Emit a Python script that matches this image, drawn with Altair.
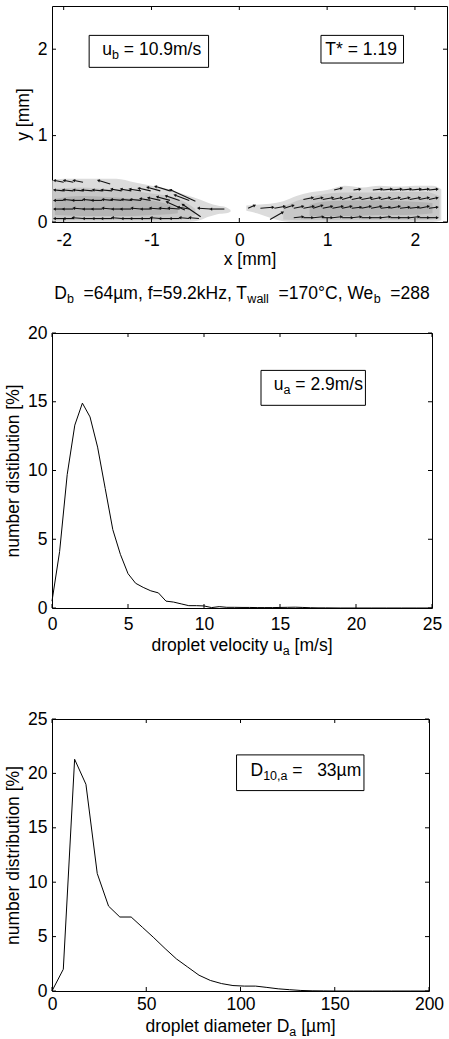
import altair as alt
import numpy as np
import pandas as pd

FONT = "Liberation Sans"
FS = 17.5
SUB = 12.5

# ---------------- Panel 1: droplet velocity vectors (tails, components in mm) ----------------
arrow_x = [
    -2.00, -1.89, -1.78, -1.67, -1.56, -1.45, -1.34, -1.23, -1.12, -1.01, -0.90, -0.79, -0.68, -0.57, -0.46,
    -2.00, -1.89, -1.78, -1.67, -1.56, -1.45, -1.34, -1.23, -1.12, -1.01, -0.90, -0.79, -0.68, -0.57, -0.33, -0.17,
    -2.00, -1.89, -1.78, -1.67, -1.56, -1.45, -1.34, -1.23, -1.12, -1.01, -0.90, -0.79, -0.68, -0.57,
    -2.00, -1.89, -1.78, -1.67, -1.56, -1.45, -1.34, -1.23, -1.12, -1.01, -0.90, -0.79,
    -2.00, -1.89, -1.78, -1.47,
    -0.50, -0.44, -0.62,
    0.35, 0.62, 0.73, 0.84, 0.95, 1.06, 1.17, 1.28, 1.39, 1.50, 1.61, 1.72, 1.83, 1.94, 2.05, 2.16,
    0.10, 0.24, 0.40, 0.51, 0.62, 0.73, 0.84, 0.95, 1.06, 1.17, 1.28, 1.39, 1.50, 1.61, 1.72, 1.83, 1.94, 2.05, 2.16,
    0.73, 0.84, 0.95, 1.06, 1.17, 1.28, 1.39, 1.50, 1.61, 1.72, 1.83, 1.94, 2.05, 2.16,
    1.08, 1.30, 1.52, 1.63, 1.74, 1.85, 1.96, 2.05, 2.16,
]
arrow_y = (
    [0.04] * 15 + [0.15] * 16 + [0.25] * 14 + [0.36] * 12 + [0.46, 0.46, 0.46, 0.44]
    + [0.24, 0.06, 0.14]
    + [0.03] + [0.05] * 15 + [0.16] * 19 + [0.26] * 14 + [0.37] * 9
)
arrow_u = [
    -0.10, -0.10, -0.11, -0.10, -0.10, -0.11, -0.10, -0.10, -0.11, -0.10, -0.10, -0.11, -0.10, -0.10, -0.10,
    -0.10, -0.11, -0.10, -0.10, -0.11, -0.10, -0.10, -0.11, -0.10, -0.10, -0.11, -0.11, -0.12, -0.12, -0.13, -0.15,
    -0.10, -0.10, -0.11, -0.10, -0.11, -0.10, -0.11, -0.10, -0.11, -0.11, -0.13, -0.14, -0.15, -0.16,
    -0.10, -0.11, -0.10, -0.11, -0.10, -0.11, -0.11, -0.11, -0.12, -0.13, -0.14, -0.16,
    -0.10, -0.10, -0.10, -0.13,
    -0.28, -0.20, -0.20,
    0.14, 0.10, 0.10, 0.11, 0.10, 0.10, 0.11, 0.10, 0.10, 0.11, 0.10, 0.10, 0.10, 0.10, 0.10, 0.09,
    0.07, 0.14, 0.11, 0.10, 0.10, 0.11, 0.10, 0.10, 0.11, 0.10, 0.10, 0.10, 0.11, 0.10, 0.10, 0.10, 0.10, 0.10, 0.09,
    0.10, 0.10, 0.11, 0.10, 0.10, 0.10, 0.11, 0.10, 0.10, 0.10, 0.10, 0.11, 0.10, 0.09,
    0.08, 0.07, 0.10, 0.10, 0.10, 0.10, 0.10, 0.10, 0.09,
]
arrow_v = [
    0.00, 0.00, 0.01, 0.00, 0.00, 0.00, 0.01, 0.00, 0.00, 0.00, 0.01, 0.00, 0.00, 0.01, 0.01,
    0.00, 0.00, 0.01, 0.00, 0.00, 0.01, 0.00, 0.00, 0.01, 0.00, 0.01, 0.01, 0.01, 0.02, 0.01, 0.00,
    0.00, 0.01, 0.00, 0.01, 0.00, 0.01, 0.01, 0.01, 0.01, 0.02, 0.03, 0.04, 0.05, 0.06,
    0.01, 0.01, 0.01, 0.01, 0.01, 0.01, 0.02, 0.02, 0.02, 0.03, 0.04, 0.05,
    0.02, 0.02, 0.02, 0.04,
    0.13, 0.14, 0.09,
    0.08, 0.01, 0.00, 0.01, 0.00, 0.01, 0.00, 0.01, 0.00, 0.00, 0.01, 0.00, 0.00, 0.01, 0.00, 0.00,
    0.03, 0.01, 0.02, 0.03, 0.02, 0.02, 0.03, 0.02, 0.02, 0.02, 0.01, 0.02, 0.02, 0.01, 0.02, 0.01, 0.01, 0.02, 0.01,
    0.02, 0.02, 0.02, 0.02, 0.03, 0.02, 0.02, 0.02, 0.02, 0.02, 0.02, 0.02, 0.02, 0.02,
    0.02, 0.01, 0.01, 0.01, 0.01, 0.01, 0.01, 0.01, 0.01,
]

# grey droplet-density blobs: x, lower and upper y (mm)
blobL1_x = [-2.13, -2.0, -1.8, -1.6, -1.4, -1.2, -1.0, -0.8, -0.6, -0.45, -0.35, -0.25, -0.15, -0.10]
blobL1_lo = [0.0, 0.0, 0.0, 0.0, 0.0, 0.0, 0.0, 0.0, 0.0, 0.02, 0.06, 0.09, 0.10, 0.12]
blobL1_hi = [0.48, 0.50, 0.50, 0.50, 0.50, 0.46, 0.42, 0.38, 0.31, 0.26, 0.22, 0.19, 0.17, 0.14]
blobL2_x = [-2.13, -1.8, -1.5, -1.2, -1.0, -0.8, -0.6, -0.5]
blobL2_lo = [0.02, 0.02, 0.02, 0.02, 0.02, 0.03, 0.05, 0.08]
blobL2_hi = [0.38, 0.40, 0.38, 0.36, 0.33, 0.30, 0.22, 0.15]
blobL3_x = [-2.10, -1.8, -1.5, -1.2, -1.0, -0.8, -0.7]
blobL3_lo = [0.08, 0.07, 0.07, 0.07, 0.08, 0.09, 0.10]
blobL3_hi = [0.27, 0.30, 0.29, 0.27, 0.25, 0.20, 0.15]
blobR1_x = [0.08, 0.2, 0.35, 0.5, 0.65, 0.8, 1.0, 1.2, 1.4, 1.6, 1.8, 2.0, 2.2, 2.3]
blobR1_lo = [0.13, 0.10, 0.05, 0.01, 0.0, 0.0, 0.0, 0.0, 0.0, 0.0, 0.0, 0.0, 0.0, 0.02]
blobR1_hi = [0.19, 0.20, 0.21, 0.24, 0.30, 0.34, 0.37, 0.42, 0.40, 0.42, 0.41, 0.42, 0.42, 0.38]
blobR2_x = [0.5, 0.7, 0.9, 1.2, 1.5, 1.8, 2.1, 2.28]
blobR2_lo = [0.03, 0.02, 0.02, 0.02, 0.02, 0.02, 0.02, 0.04]
blobR2_hi = [0.18, 0.26, 0.31, 0.34, 0.34, 0.35, 0.35, 0.30]
blobR3_x = [0.8, 1.0, 1.3, 1.6, 1.9, 2.2]
blobR3_lo = [0.07, 0.07, 0.07, 0.08, 0.08, 0.10]
blobR3_hi = [0.20, 0.24, 0.25, 0.25, 0.24, 0.22]

# ---------------- Panel 2: velocity distribution ----------------
vel_x = [0.0, 0.5, 1.0, 1.5, 2.0, 2.5, 3.0, 3.5, 4.0, 4.5, 5.0, 5.5, 6.0, 6.5, 7.0, 7.5, 8.0, 8.5,
         9.0, 9.5, 10.0, 10.5, 11.0, 11.5, 12.0, 12.5, 13.0, 13.5, 14.0, 14.5, 15.0, 15.5, 16.0,
         16.5, 17.0, 17.5, 18.0, 19.0, 20.0, 21.0, 22.0, 23.0, 24.0, 25.0]
vel_pct = [0.5, 4.1, 9.7, 13.3, 14.9, 13.9, 11.7, 8.7, 5.7, 3.9, 2.5, 1.8, 1.5, 1.25, 1.1, 0.5, 0.43, 0.3,
           0.17, 0.17, 0.15, 0.03, 0.1, 0.05, 0.05, 0.04, 0.04, 0.03, 0.03, 0.03, 0.04, 0.05, 0.06,
           0.04, 0.02, 0.01, 0.01, 0.0, 0.0, 0.0, 0.0, 0.0, 0.0, 0.0]

# ---------------- Panel 3: diameter distribution ----------------
dia_x = [0, 6, 12, 18, 24, 30, 36, 42, 48, 54, 60, 66, 72, 78, 84, 90, 96, 102, 108, 114, 120,
         126, 132, 138, 144, 150, 160, 170, 180, 190, 200]
dia_pct = [0.0, 2.0, 21.3, 19.0, 10.8, 7.8, 6.8, 6.8, 5.85, 4.9, 3.9, 2.95, 2.2, 1.45, 0.97, 0.68,
           0.5, 0.45, 0.45, 0.33, 0.2, 0.12, 0.05, 0.02, 0.01, 0.0, 0.0, 0.0, 0.0, 0.0, 0.0]

# annotation boxes (data coordinates): x, x2, y, y2
box1_ub = [-1.71, -0.35, 1.79, 2.16]
box1_T = [0.93, 1.87, 1.84, 2.16]
box2 = [13.75, 20.62, 14.74, 17.28]
box3 = [97.9, 165.5, 18.42, 21.7]

# ---------------- helpers ----------------
AW = {' ': 278, '%': 889, '*': 389, ',': 278, '-': 333, '.': 278, '/': 278, '=': 584, '[': 278,
      ']': 278, 'C': 722, 'D': 722, 'H': 722, 'T': 611, 'W': 944, 'a': 556, 'b': 556, 'c': 500,
      'd': 556, 'e': 556, 'f': 278, 'i': 222, 'k': 500, 'l': 222, 'm': 833, 'n': 556, 'o': 556,
      'p': 556, 'r': 333, 's': 500, 't': 278, 'u': 556, 'v': 500, 'w': 722, 'x': 500, 'y': 500,
      'z': 500, 'µ': 576, '°': 400}


def tw(s, size):
    return sum(AW.get(c, 556) for c in s) * size / 1000.0


one = pd.DataFrame({"k": [0]})


def rich(pieces, x, y, align="left", data=None):
    data = one if data is None else data
    widths = [tw(t, s) for t, s, _ in pieces]
    off = -sum(widths) / 2 if align == "center" else 0.0
    out = []
    for (t, s, dy), w in zip(pieces, widths):
        lead = len(t) - len(t.lstrip(" "))
        out.append(
            alt.Chart(data).mark_text(
                text=t.strip(" "), align="left", baseline="alphabetic", dx=off + tw(" " * lead, s),
                dy=dy, font=FONT, fontSize=s, color="black",
            ).encode(x=x, y=y)
        )
        off += w
    return out


def axis(values, title, lp, tp=5, expr=None):
    kw = dict(values=values, title=title, labelPadding=lp, titlePadding=tp, ticks=False,
              tickSize=0, domain=False, grid=False, labelFlush=False, labelOverlap=False)
    if expr:
        kw["labelExpr"] = expr
    return alt.Axis(**kw)


def ticks(xvals, yvals, X, Y, W, H):
    tx = pd.DataFrame({"x": xvals})
    ty = pd.DataFrame({"y": yvals})
    r = dict(color="black", strokeWidth=1)
    return [
        alt.Chart(tx).mark_rule(**r).encode(x=X, y=alt.value(0), y2=alt.value(4)),
        alt.Chart(tx).mark_rule(**r).encode(x=X, y=alt.value(H), y2=alt.value(H - 4)),
        alt.Chart(ty).mark_rule(**r).encode(y=Y, x=alt.value(0), x2=alt.value(4)),
        alt.Chart(ty).mark_rule(**r).encode(y=Y, x=alt.value(W), x2=alt.value(W - 4)),
    ]


def box_layer(b, X, Y):
    d = pd.DataFrame({"x": [b[0]], "x2": [b[1]], "y": [b[2]], "y2": [b[3]]})
    return alt.Chart(d).mark_rect(fill="white", stroke="black", strokeWidth=1).encode(
        x=X, x2="x2", y=Y, y2="y2")


NEG = "(datum.value < 0 ? '-' : '') + abs(datum.value)"

# ---------------- Panel 1 ----------------
W1, H1 = 395, 216
X1 = alt.X("x:Q", scale=alt.Scale(domain=[-2.133, 2.365], nice=False, zero=False),
           axis=axis([-2, -1, 0, 1, 2], "x [mm]", 9, 2, NEG))
Y1 = alt.Y("y:Q", scale=alt.Scale(domain=[0, 2.5], nice=False), axis=axis([0, 1, 2], "y [mm]", 5, 5))

arr = pd.DataFrame({"x": arrow_x, "y": arrow_y, "u": arrow_u, "v": arrow_v})
arr["x2"] = arr["x"] + arr["u"]
arr["y2"] = arr["y"] + arr["v"]
heads = pd.DataFrame({"x": arr["x2"], "y": arr["y2"]})
heads["ang"] = np.mod(np.degrees(np.arctan2(arr["u"] * 87.8, arr["v"] * 86.4)), 360)

blob_layers = []
for bx, lo, hi, col in [
    (blobL1_x, blobL1_lo, blobL1_hi, "#dcdcdc"), (blobR1_x, blobR1_lo, blobR1_hi, "#dcdcdc"),
    (blobL2_x, blobL2_lo, blobL2_hi, "#c8c8c8"), (blobR2_x, blobR2_lo, blobR2_hi, "#c8c8c8"),
    (blobL3_x, blobL3_lo, blobL3_hi, "#b4b4b4"), (blobR3_x, blobR3_lo, blobR3_hi, "#b4b4b4"),
]:
    d = pd.DataFrame({"x": bx, "y": lo, "y2": hi})
    blob_layers.append(alt.Chart(d).mark_area(color=col, interpolate="monotone").encode(x=X1, y=Y1, y2="y2"))

arrows = alt.Chart(arr).mark_rule(color="#111111", strokeWidth=1.1).encode(x=X1, y=Y1, x2="x2", y2="y2")
arrowheads = alt.Chart(heads).mark_point(shape="triangle", filled=True, size=11, color="#111111",
                                          opacity=1).encode(x=X1, y=Y1, angle=alt.Angle("ang:Q", scale=None))

anch1a = pd.DataFrame({"x": [-1.56], "y": [1.93]})
anch1b = pd.DataFrame({"x": [0.98], "y": [1.93]})
p1 = alt.layer(
    *blob_layers, arrows, arrowheads,
    box_layer(box1_ub, X1, Y1), box_layer(box1_T, X1, Y1),
    *rich([("u", FS, 0), ("b", SUB, 4), (" = 10.9m/s", FS, 0)], X1, Y1, data=anch1a),
    *rich([("T* = 1.19", FS, 0)], X1, Y1, data=anch1b),
    *ticks([-2, -1, 0, 1, 2], [0, 1, 2], X1, Y1, W1, H1),
).properties(width=W1, height=H1)

# ---------------- Panel 2 ----------------
W2, H2 = 380, 275
X2 = alt.X("x:Q", scale=alt.Scale(domain=[0, 25], nice=False), axis=axis([0, 5, 10, 15, 20, 25], None, 7))
Y2 = alt.Y("y:Q", scale=alt.Scale(domain=[0, 20], nice=False),
           axis=axis([0, 5, 10, 15, 20], "number distibution [%]", 5, 5))
vel = pd.DataFrame({"x": vel_x, "y": vel_pct})
anch2 = pd.DataFrame({"x": [14.59], "y": [15.83]})
p2 = alt.layer(
    alt.Chart(vel).mark_line(color="black", strokeWidth=1).encode(x=X2, y=Y2),
    box_layer(box2, X2, Y2),
    *rich([("u", FS, 0), ("a", SUB, 4), (" = 2.9m/s", FS, 0)], X2, Y2, data=anch2),
    *rich([("D", FS, 0), ("b", SUB, 3.5), ("  =64µm, f=59.2kHz, T", FS, 0), ("wall", SUB, 3.5),
           ("  =170°C, We", FS, 0), ("b", SUB, 3.5), ("  =288", FS, 0)],
          alt.value(W2 / 2), alt.value(-34), align="center"),
    *rich([("droplet velocity u", FS, 0), ("a", SUB, 4), (" [m/s]", FS, 0)],
          alt.value(W2 / 2), alt.value(H2 + 43), align="center"),
    *ticks([0, 5, 10, 15, 20, 25], [0, 5, 10, 15, 20], X2, Y2, W2, H2),
).properties(width=W2, height=H2)

# ---------------- Panel 3 ----------------
W3, H3 = 377, 272
X3 = alt.X("x:Q", scale=alt.Scale(domain=[0, 200], nice=False), axis=axis([0, 50, 100, 150, 200], None, 4))
Y3 = alt.Y("y:Q", scale=alt.Scale(domain=[0, 25], nice=False),
           axis=axis([0, 5, 10, 15, 20, 25], "number distribution [%]", 5, 5))
dia = pd.DataFrame({"x": dia_x, "y": dia_pct})
anch3 = pd.DataFrame({"x": [105.3], "y": [19.8]})
p3 = alt.layer(
    alt.Chart(dia).mark_line(color="black", strokeWidth=1).encode(x=X3, y=Y3),
    box_layer(box3, X3, Y3),
    *rich([("D", FS, 0), ("10,a", SUB, 4), (" =", FS, 0), ("   33µm", FS, 0)], X3, Y3, data=anch3),
    *rich([("droplet diameter D", FS, 0), ("a", SUB, 4), (" [µm]", FS, 0)],
          alt.value(W3 / 2), alt.value(H3 + 41), align="center"),
    *ticks([0, 50, 100, 150, 200], [0, 5, 10, 15, 20, 25], X3, Y3, W3, H3),
).properties(width=W3, height=H3)

chart = alt.vconcat(p1, p2, p3, spacing=111, bounds="flush").properties(
    padding={"left": 4, "top": 5, "right": 0, "bottom": 0}, background="white"
).configure_view(stroke="black", strokeWidth=1).configure_axis(
    labelFont=FONT, titleFont=FONT, labelFontSize=FS, titleFontSize=FS, labelColor="black",
    titleColor="black", titleFontWeight="normal"
)

chart.save("out.html", embed_options={"renderer": "svg", "actions": False})
